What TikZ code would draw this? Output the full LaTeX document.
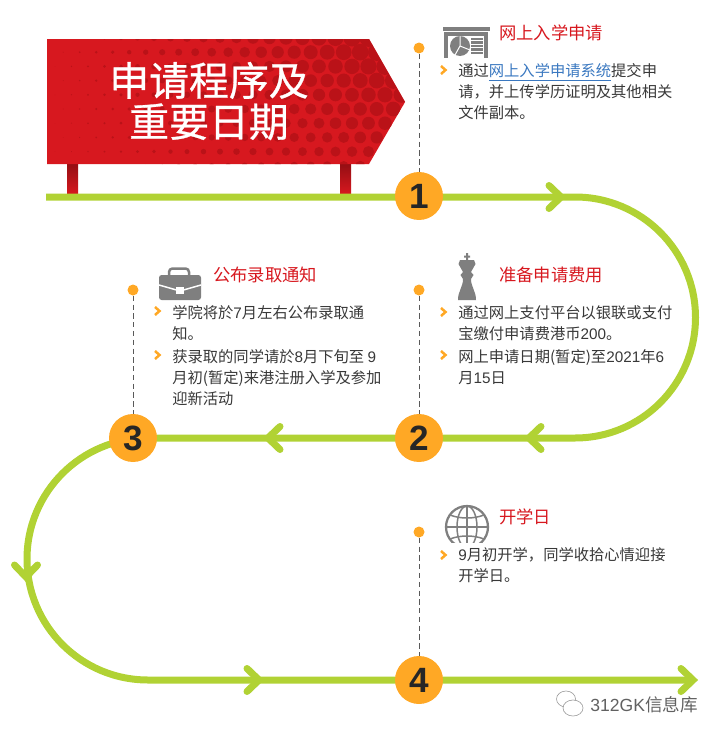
\documentclass[tikz,border=0pt]{standalone}
\usepackage{xcolor}
\usepackage{fontspec}
\setmainfont{Noto Sans CJK SC}
\newfontfamily\latinfont{Liberation Sans}
\newfontfamily\titlefont[FakeBold=0.7]{Noto Sans CJK SC}
\usetikzlibrary{positioning}
\definecolor{pathgreen}{HTML}{B1D234}
\definecolor{markorange}{HTML}{FFA825}
\definecolor{signred}{HTML}{D7181F}
\definecolor{signdark}{HTML}{BA1218}
\definecolor{iconGray}{HTML}{7F7F7F}
\definecolor{bodytext}{HTML}{383838}
\definecolor{linkblue}{HTML}{3A78C0}
\newcommand{\lat}[1]{{\latinfont #1}}
\tikzset{
  pathline/.style={line width=0.14cm, pathgreen},
  stepdot/.style={circle, fill=markorange, minimum size=0.96cm, inner sep=0pt,
    font=\latinfont\fontsize{20}{20}\selectfont\bfseries, text=black!85},
  smalldot/.style={circle, fill=markorange, minimum size=0.22cm, inner sep=0pt},
  guide/.style={densely dashed, thin, black!65},
  heading/.style={anchor=west, inner sep=0pt, text=signred, font=\fontsize{9.85}{12}\selectfont},
  bodyblock/.style={anchor=north west, inner sep=0pt, align=left, text=bodytext,
    font=\fontsize{8.7}{12}\selectfont},
  chevron/.pic={\draw[pathline, line cap=round, miter limit=10] (-12,-11.5) -- (0,0) -- (-12,11.5);},
  bullet/.pic={\draw[markorange, line width=0.05cm] (-2.5,-4) -- (2,0) -- (-2.5,4);}
}
\begin{document}
\begin{tikzpicture}[x=0.02cm, y=-0.02cm]
  \useasboundingbox (0,0) rectangle (721,737);

  % sign posts
  \shade[top color=signdark!80!black, bottom color=signred] (67,164) rectangle (78,194);
  \shade[top color=signdark!80!black, bottom color=signred] (340,164) rectangle (351,194);

  % sign board with halftone
  \fill[signred] (47,39) -- (369,39) -- (405,102) -- (369,164) -- (47,164) -- cycle;
  \begin{scope}
    \clip (47,39) -- (369,39) -- (405,102) -- (369,164) -- (47,164) -- cycle;
    \foreach \row in {0,...,9} {
      \foreach \col in {0,...,22} {
        \pgfmathsetmacro{\dotx}{55+\col*16.5+mod(\row,2)*8.2}
        \pgfmathsetmacro{\doty}{38+\row*14.2}
        \pgfmathsetmacro{\dotr}{9.4*(\dotx-45)/340*(1-0.42*(\doty-38)/126)}
        \fill[signdark] (\dotx,\doty) circle[radius=\dotr];
      }
    }
  \end{scope}
  \node[anchor=center, inner sep=0pt, align=center, text=white,
    font=\titlefont\fontsize{22.7}{23.4}\selectfont] (title) at (209,101) {申请程序及\\重要日期};

  % green route
  \coordinate (start) at (46,197);
  \coordinate (finish) at (693,680);
  \draw[pathline] (start) -- (575,197) arc[start angle=-90, end angle=90, radius=120.5]
    -- (148,438) arc[start angle=-90, end angle=-270, radius=121] -- (finish);
  \pic at (561,197) {chevron};
  \pic[rotate=180] at (529,438) {chevron};
  \pic[rotate=180] at (268,438) {chevron};
  \pic[rotate=-90] at (26,577) {chevron};
  \pic at (259,680) {chevron};
  \pic at (finish) {chevron};

  % steps
  \node[smalldot] (dot1) at (419,48) {};
  \node[smalldot] (dot2) at (419,290) {};
  \node[smalldot] (dot3) at (133,290) {};
  \node[smalldot] (dot4) at (419,532) {};
  \node[stepdot] (step1) at (419,196) {1};
  \node[stepdot] (step2) at (419,438) {2};
  \node[stepdot] (step3) at (133,438) {3};
  \node[stepdot] (step4) at (419,680) {4};
  \foreach \n in {1,...,4}
    \draw[guide] (dot\n) -- (step\n);

  % icon: report
  \fill[iconGray] (443,27) rectangle (490,30.5);
  \fill[iconGray] (444,32) rectangle (488,58);
  \fill[white] (448,35.5) rectangle (484,58);
  \fill[iconGray] (460,46) circle[radius=10];
  \draw[white, line width=0.02cm] (460,46) -- (460,36) (460,46) -- (470,50) (460,46) -- (455,55);
  \foreach \liney in {39,42.5,...,54}
    \draw[iconGray, line width=0.045cm] (471,\liney) -- (483,\liney);

  % icon: briefcase
  \draw[iconGray, line width=0.05cm, rounded corners=2] (169,276) -- (169,268.5) -- (189,268.5) -- (189,276);
  \fill[iconGray, rounded corners=1.5] (159,275) rectangle (201,300);
  \draw[white, line width=0.03cm] (159,285) -- (180,291) -- (201,285);
  \fill[white] (176,287) rectangle (184,294);

  % icon: king
  \fill[iconGray] (466,253) rectangle (468,262) (464,255.5) rectangle (470,257.5);
  \fill[iconGray] (467,260) -- (474,260) -- (475.5,264) -- (471,272) -- (473.5,275) -- (471,279)
    .. controls (471,287) and (476,291) .. (476,300) -- (458,300)
    .. controls (458,291) and (463,287) .. (463,279) -- (460.5,275) -- (463,272)
    -- (458.5,264) -- (460,260) -- cycle;

  % icon: globe
  \begin{scope}
    \clip (440,500) rectangle (495,542);
    \draw[iconGray, line width=0.045cm] (467,527) circle[radius=21];
    \draw[iconGray, line width=0.03cm] (467,527) ellipse[x radius=10, y radius=21];
    \draw[iconGray, line width=0.03cm] (467,506) -- (467,548) (446,527) -- (488,527);
    \draw[iconGray, line width=0.03cm] (450,515) .. controls (460,519) and (474,519) .. (484,515);
    \draw[iconGray, line width=0.03cm] (450,539) .. controls (460,535) and (474,535) .. (484,539);
  \end{scope}

  % texts
  \node[heading] (head1) at (499,33) {网上入学申请};
  \node[bodyblock] (text1) at (458,63.5)
    {通过\textcolor{linkblue}{\underline{网上入学申请系统}}提交申\\请，并上传学历证明及其他相关\\文件副本。};
  \pic at (443.5,70) {bullet};

  \node[heading] (head2) at (499,275) {准备申请费用};
  \node[bodyblock] (text2a) at (458,305.5)
    {通过网上支付平台以银联或支付\\宝缴付申请费港币\lat{200}。};
  \node[bodyblock] (text2b) at (458,349.5)
    {网上申请日期(暂定)至\lat{2021}年\lat{6}\\月\lat{15}日};
  \pic at (443.5,312) {bullet};
  \pic at (443.5,355) {bullet};

  \node[heading] (head3) at (213,275) {公布录取通知};
  \node[bodyblock] (text3a) at (172,305.5)
    {学院将於\lat{7}月左右公布录取通\\知。};
  \node[bodyblock] (text3b) at (172,349.5)
    {获录取的同学请於\lat{8}月下旬至 \lat{9}\\月初(暂定)来港注册入学及参加\\迎新活动};
  \pic at (157.5,311) {bullet};
  \pic at (157.5,355) {bullet};

  \node[heading] (head4) at (499,517) {开学日};
  \node[bodyblock] (text4) at (458,547.5)
    {\lat{9}月初开学，同学收拾心情迎接\\开学日。};
  \pic at (443.5,555) {bullet};

  % watermark
  \draw[black!40, line width=0.012cm] (566,699) ellipse[x radius=9.5, y radius=8];
  \fill[white] (573,708) ellipse[x radius=10, y radius=8];
  \draw[black!40, line width=0.012cm] (573,708) ellipse[x radius=10, y radius=8];
  \node[anchor=west, inner sep=0pt, text=black!62, font=\fontsize{10}{11}\selectfont] (mark) at (590,705) {\lat{312GK}信息库};
\end{tikzpicture}
\end{document}
